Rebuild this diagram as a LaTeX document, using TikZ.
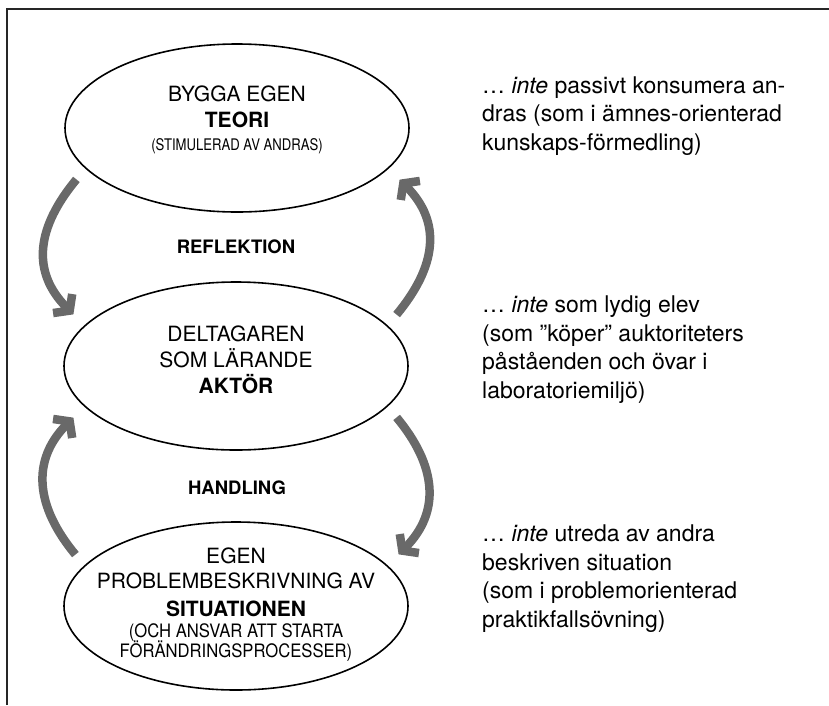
\documentclass[tikz,border=0pt]{standalone}
\usepackage{fontspec}
\setmainfont{TeX Gyre Heros}
\newfontfamily\narrowA[FakeStretch=0.82]{TeX Gyre Heros}
\newfontfamily\narrowB[FakeStretch=0.9]{TeX Gyre Heros}
\usetikzlibrary{shapes.geometric,arrows.meta}
\definecolor{arrowgray}{RGB}{105,105,105}
\tikzset{
  stage/.style={draw=black, line width=1.6pt, ellipse, minimum width=344pt, minimum height=168pt, inner sep=0pt},
  stagetext/.style={align=center, anchor=base, inner sep=0pt, font=\fontsize{21}{26}\selectfont},
  cyclearrow/.style={draw=arrowgray, line width=8.5pt, -{Straight Barb[length=10pt,width=27pt]}},
  looplabel/.style={anchor=base, inner sep=0pt, font=\fontsize{18.5}{22}\selectfont\bfseries},
  note/.style={anchor=base west, align=left, inner sep=0pt, font=\fontsize{23}{28.5}\selectfont},
  frame/.style={line width=2pt, draw=black!85}
}
\begin{document}
\begin{tikzpicture}[x=1pt,y=-1pt]
\useasboundingbox (0,0) rectangle (829,705);
\draw[frame] (7,705) -- (7,9) -- (829,9);

\node[stage] (teori) at (237,128) {};
\node[stage] (aktor) at (236,366) {};
\node[stage] (sit) at (236,606) {};

% multi-line nodes: base anchor sits on the last line
\node[stagetext] (teoritext) at (237,150) {BYGGA EGEN\\\textbf{TEORI}\\[-3pt]{\narrowA\fontsize{16}{18}\selectfont (STIMULERAD AV ANDRAS)}};
\node[stagetext] (aktortext) at (236,393) {DELTAGAREN\\SOM LÄRANDE\\\textbf{AKTÖR}};
\node[stagetext] (sittext) at (236,657) {EGEN\\[-1pt]PROBLEMBESKRIVNING AV\\[2pt]\textbf{SITUATIONEN}\\[-5pt]{\narrowB\fontsize{18.5}{21}\selectfont (OCH ANSVAR ATT STARTA}\\[-6pt]{\narrowB\fontsize{18.5}{21}\selectfont FÖRÄNDRINGSPROCESSER)}};

\node[looplabel] (refl) at (236,253) {REFLEKTION};
\node[looplabel] (handl) at (237,494) {HANDLING};

\draw[cyclearrow, shorten <=14pt, shorten >=15.5pt] (teori.195) .. controls +(-48.6,58.6) and +(-53.7,-54) .. (aktor.165);
\draw[cyclearrow, shorten <=14pt, shorten >=15.5pt] (aktor.15) .. controls +(48.6,-58.6) and +(53.7,54) .. (teori.345);
\draw[cyclearrow, shorten <=14pt, shorten >=15.5pt] (aktor.345) .. controls +(48.6,58.6) and +(53.7,-54) .. (sit.15);
\draw[cyclearrow, shorten <=14pt, shorten >=15.5pt] (sit.165) .. controls +(-48.6,-58.6) and +(-53.7,54) .. (aktor.195);

\node[note] (note1) at (482,150) {… \textit{inte} passivt konsumera an-\\dras (som i ämnes-orienterad\\kunskaps-förmedling)};
\node[note] (note2) at (482,398) {… \textit{inte} som lydig elev\\(som ”köper” auktoriteters\\påståenden och övar i\\laboratoriemiljö)};
\node[note] (note3) at (482,627) {… \textit{inte} utreda av andra\\beskriven situation\\(som i problemorienterad\\praktikfallsövning)};
\end{tikzpicture}
\end{document}
